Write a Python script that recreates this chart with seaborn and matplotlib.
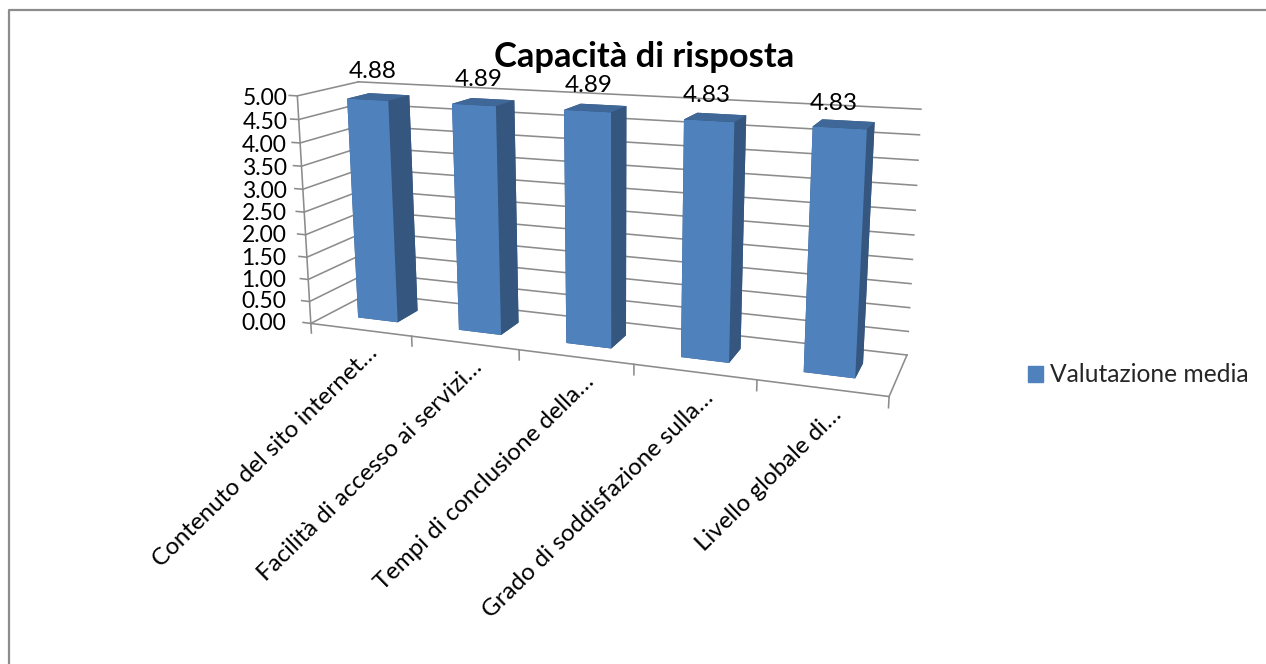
import numpy as np, matplotlib
matplotlib.use('Agg')
import matplotlib.pyplot as plt
import seaborn as sns
from matplotlib.patches import Patch
from matplotlib.lines import Line2D
from mpl_toolkits.mplot3d import proj3d

categories = ["Contenuto del sito internet…", "Facilità di accesso ai servizi…",
              "Tempi di conclusione della…", "Grado di soddisfazione sulla…",
              "Livello globale di…"]
values = [4.88, 4.89, 4.89, 4.83, 4.83]
value_labels = ["4.88", "4.89", "4.89", "4.83", "4.83"]
yticks = [0, .5, 1, 1.5, 2, 2.5, 3, 3.5, 4, 4.5, 5]
series_name = "Valutazione media"
title = "Capacità di risposta"

# label layout offsets (not data)
label_dx = [-.05, -.04, -.055, -.07, -.08]
label_dz = [.55, .46, .44, .42, .38]

sns.set_theme(style="white")
plt.rcParams['font.family'] = ['Lato', 'DejaVu Sans']
FRONT, SIDE, TOP = "#4F81BD", "#34567F", "#3F6797"
GRID = "#8C8C8C"
W, H = 1266, 664
fig = plt.figure(figsize=(W/100, H/100), dpi=100, facecolor='white')
S = 5094.6
ax = fig.add_axes([(596.594-S*0.095)/W, (440.922-S*0.095)/H, S*0.185/W, S*0.185/H], projection='3d')
ax.computed_zorder = False
ax.set_xlim(0, 5, view_margin=0); ax.set_ylim(0, 1, view_margin=0); ax.set_zlim(0, 5, view_margin=0)
ax.view_init(13.6348, -69.0283, 0.2188)
ax.set_proj_type('persp', focal_length=0.25)
ax.set_box_aspect((1, .1948, .4009), zoom=2.7351/4)
ax.set_axis_off()
ax.patch.set_alpha(0)
M = ax.get_proj()

def label(x, y, z, s, **kw):
    px, py, _ = proj3d.proj_transform(x, y, z, M)
    ax.text2D(px, py, s, transform=ax.transData, color='black', zorder=6, **kw)

lw = 1.15
def ln(xs, ys, zs, z=1):
    ax.plot(xs, ys, zs, color=GRID, lw=lw, zorder=z, clip_on=False, solid_capstyle='projecting')

for t in yticks:
    ln([0, 0], [0, 1], [t, t])
    ln([0, 5], [1, 1], [t, t])
    ln([-0.08, 0], [0, 0], [t, t])
    label(-(0.26-0.032*t), 0, t-0.07, f"{t:.2f}", ha='right', va='center', fontsize=16.5)
ln([0, 0], [0, 0], [0, 5])
ln([0, 5], [0, 0], [0, 0], z=3)
ln([5, 5], [0, 1], [0, 0])
for i in range(6):
    ln([i, i], [0, 0], [-0.22, 0], z=3)

barw, bard, bary = 0.4, 0.37, 0.3
for i, v in enumerate(values):
    ax.bar3d(i+0.3, bary, 0, barw, bard, v, color=[SIDE, TOP, FRONT, SIDE, SIDE, SIDE],
             shade=False, linewidth=0, zorder=2+i/10)
    label(i+0.5+label_dx[i], bary+bard/2, v+label_dz[i], value_labels[i], ha='center', va='center', fontsize=17.5)
    label(i+0.63, 0, -0.42, categories[i], ha='right', va='center', rotation=44.5,
          rotation_mode='anchor', fontsize=17.4)

fig.text(644/W, 1-57/H, title, ha='center', va='center', fontsize=24.8, fontweight='bold', color='black')
fig.legend(handles=[Patch(color=FRONT, label=series_name)], loc='center left',
           bbox_to_anchor=(1028/W, 1-375/H), frameon=False, fontsize=17.7, borderpad=0,
           borderaxespad=0, handlelength=0.61, handleheight=0.61, handletextpad=0.3)
fig.add_artist(Line2D([1, 8.5/W, 8.5/W], [1-10/H, 1-10/H, 0], transform=fig.transFigure, color=GRID, lw=1.6))
fig.savefig('out.png', dpi=100, facecolor='white')
